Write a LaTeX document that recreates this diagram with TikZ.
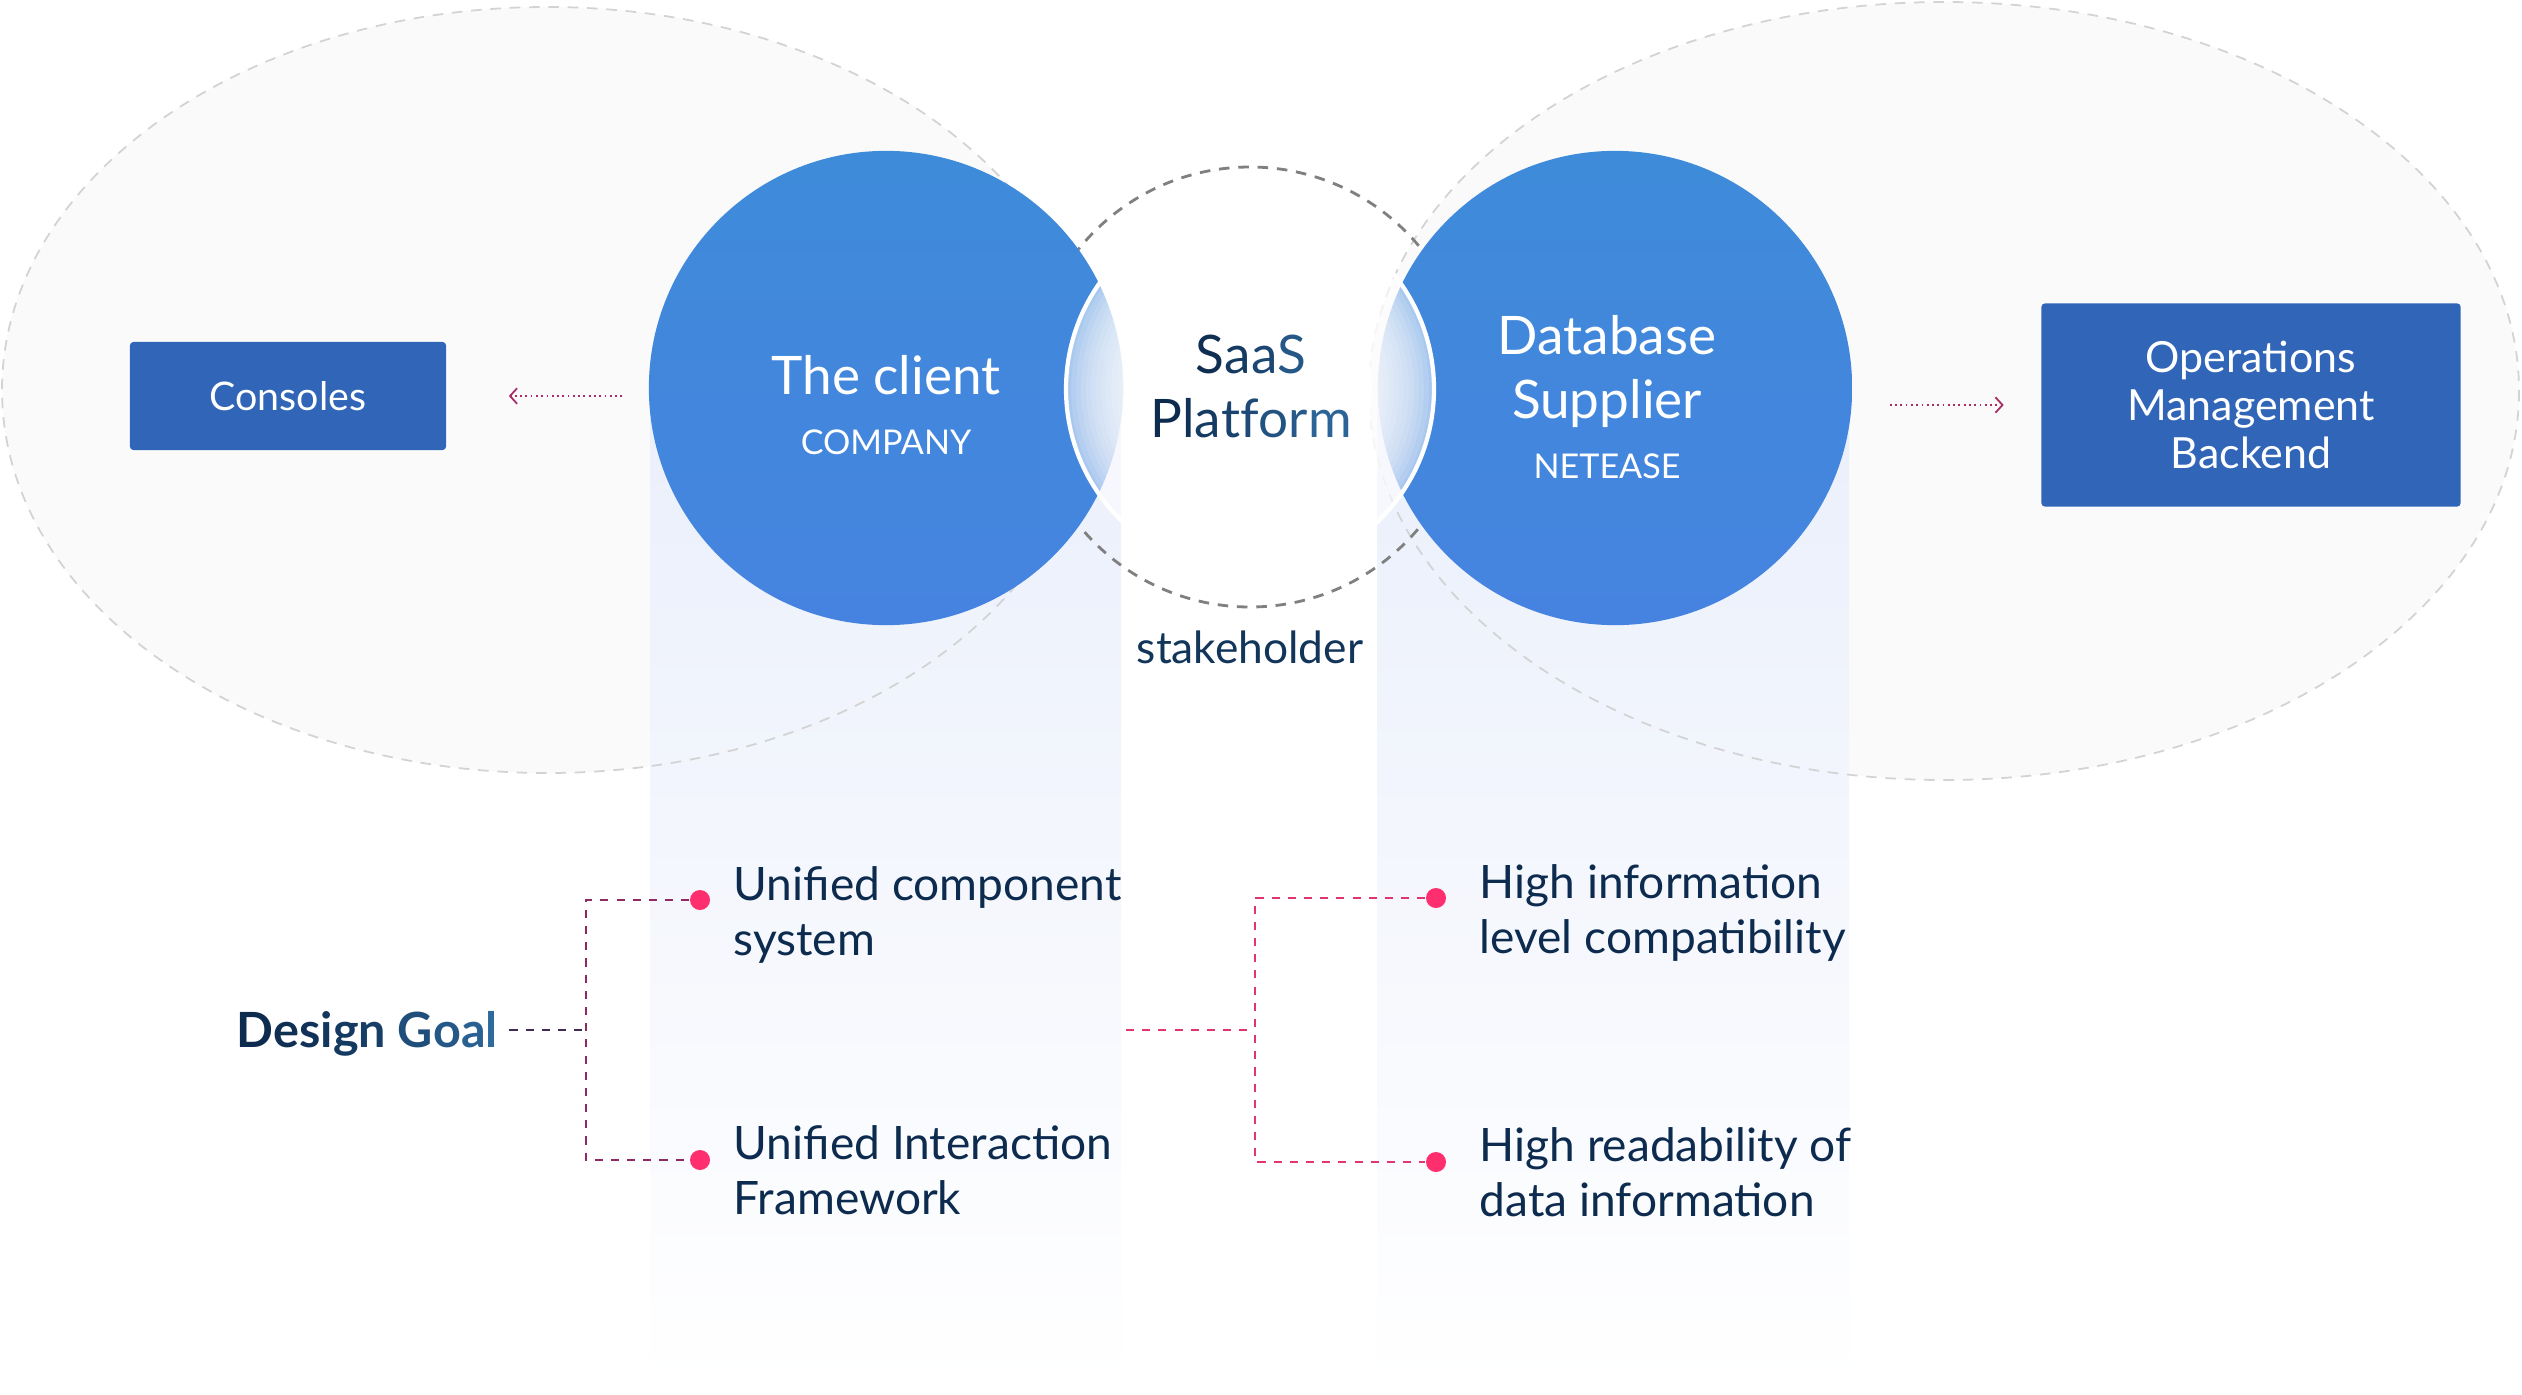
\documentclass[tikz,border=0pt]{standalone}
\usepackage{fontspec}
\setmainfont{Lato}
\usetikzlibrary{arrows.meta}
\definecolor{navy}{HTML}{0D2B4E}
\definecolor{steel}{HTML}{2F6A9F}
\definecolor{boxblue}{HTML}{3165B8}
\definecolor{circtop}{HTML}{3E8BD9}
\definecolor{circbot}{HTML}{4683E0}
\definecolor{dotpink}{HTML}{FF2E6E}
\definecolor{lineplum}{HTML}{8E2A62}
\definecolor{linepink}{HTML}{E0356E}
\definecolor{bandblue}{HTML}{EAEFFB}
\definecolor{ringgray}{HTML}{D3D3D3}
\newcommand{\gr}[2]{\textcolor{steel!#1!navy}{#2}}

\begin{document}
\begin{tikzpicture}[x=0.01cm, y=-0.01cm,
  bluecirc/.style={circle, minimum size=4.74cm, inner sep=0pt, top color=circtop, bottom color=circbot},
  title/.style={anchor=base, text=white, font=\fontsize{15.1}{18}\selectfont},
  subtitle/.style={anchor=base, text=white, font=\fontsize{9.7}{12}\selectfont},
  boxnode/.style={rectangle, rounded corners=1pt, fill=boxblue, text=white, align=center, inner sep=0pt},
  goaltext/.style={anchor=base west, align=left, inner sep=0pt, text=navy, font=\fontsize{13.1}{15.6}\selectfont},
  dot/.style={circle, fill=dotpink, minimum size=0.2cm, inner sep=0pt},
  flow/.style={densely dotted, line width=0.5pt, -{Straight Barb[length=2pt, width=4.4pt]}},
  bracket/.style={dash pattern=on 2.3pt off 2.3pt, line width=0.6pt}]
  \useasboundingbox (0,0) rectangle (2522,1394);
  \fill[white] (0,0) rectangle (2522,1394);

  % stakeholder fields
  \fill[black!2] (547,390) ellipse [x radius=545, y radius=383];
  \fill[black!2] (1944,391) ellipse [x radius=575, y radius=389];
  \shade[top color=bandblue, bottom color=white] (650,387) rectangle (1121,1390);
  \shade[top color=bandblue, bottom color=white] (1377,387) rectangle (1849,1390);
  \draw[ringgray, line width=0.5pt, dash pattern=on 3pt off 2.5pt] (547,390) ellipse [x radius=545, y radius=383];
  \draw[ringgray, line width=0.5pt, dash pattern=on 3pt off 2.5pt] (1944,391) ellipse [x radius=575, y radius=389];
  \draw[black!50, line width=0.8pt, dash pattern=on 3pt off 2.5pt] (1250,387) circle [radius=220];

  \node[bluecirc] (client) at (886,388) {};
  \node[bluecirc] (supplier) at (1615,388) {};
  % frosted platform disc
  \node[circle, minimum size=3.7cm, inner sep=0pt] (saas) at (1250,389) {};
  \fill[white, fill opacity=0.55] (saas.center) circle [radius=185];
  \foreach \r in {179,174,...,124}
    \fill[white, fill opacity=0.12] (saas.center) circle [radius=\r];
  \fill[white] (saas.center) circle [radius=122];
  \draw[white, line width=1.2pt] (saas.center) circle [radius=184];

  \node[title] (clientT) at (886,394) {The client};
  \node[subtitle] (clientS) at (886,454) {COMPANY};
  \node[title] (saasT) at (1251,373) {\gr{5}{S}\gr{25}{a}\gr{45}{a}\gr{70}{S}};
  \node[title] (saasP) at (1251,437) {\gr{0}{P}\gr{12}{l}\gr{25}{a}\gr{37}{t}\gr{50}{f}\gr{62}{o}\gr{75}{r}\gr{90}{m}};
  \node[title] (supplierT) at (1607,354) {Database};
  \node[title] (supplierU) at (1607,418) {Supplier};
  \node[subtitle] (supplierS) at (1607,478) {NETEASE};
  \node[anchor=base, text=navy!85!steel, font=\fontsize{12.6}{15}\selectfont] (stake) at (1250,663) {stakeholder};

  \node[boxnode, minimum width=3.16cm, minimum height=1.08cm, font=\fontsize{11.2}{13.6}\selectfont] (consoles) at (288,396) {Consoles};
  \node[boxnode, minimum width=4.19cm, minimum height=2.03cm, font=\fontsize{12.2}{13.7}\selectfont] (ops) at (2251,405) {Operations\\Management\\Backend};

  \draw[flow, lineplum!70!linepink] (consoles.east -| client.west) -- (consoles.east) [shorten <=0.26cm, shorten >=0.62cm];
  \draw[flow, lineplum!70!linepink] (ops.west -| supplier.east) -- (ops.west) [shorten <=0.37cm, shorten >=0.37cm];

  % design goals
  \node[anchor=base west, inner sep=0pt, font=\bfseries\fontsize{13.8}{16}\selectfont] (goal) at (236,1047) {\gr{0}{D}\gr{6}{e}\gr{12}{s}\gr{18}{i}\gr{24}{g}\gr{30}{n} \gr{55}{G}\gr{70}{o}\gr{85}{a}\gr{100}{l}};
  \node[dot] (dotA) at (700,900) {};
  \node[dot] (dotB) at (700,1160) {};
  \node[dot] (dotC) at (1436,898) {};
  \node[dot] (dotD) at (1436,1162) {};
  \coordinate (jl) at (586,1030);
  \coordinate (mid) at (1126,1030);
  \coordinate (jr) at (1255,1030);
  \draw[bracket, navy!60!lineplum] (goal.east |- jl) -- (jl) [shorten <=0.11cm];
  \draw[bracket, lineplum] (dotA) -| (jl) |- (dotB);
  \draw[bracket, linepink] (mid) -- (jr);
  \draw[bracket, linepink] (dotC) -| (jr) |- (dotD);

  \node[goaltext] (goalA) at (733,955) {Unified component\\system};
  \node[goaltext] (goalB) at (733,1214) {Unified Interaction\\Framework};
  \node[goaltext] (goalC) at (1479,953) {High information\\level compatibility};
  \node[goaltext] (goalD) at (1479,1216) {High readability of\\data information};
\end{tikzpicture}
\end{document}
